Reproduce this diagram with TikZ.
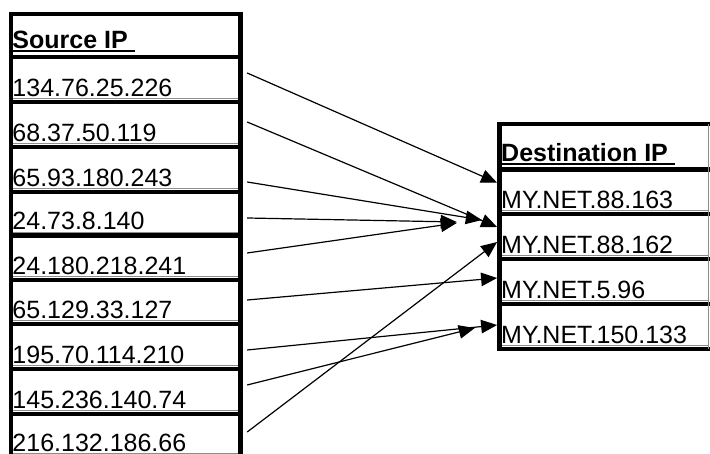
\documentclass[tikz,border=0pt]{standalone}
\usepackage{fontspec}
\setmainfont{Liberation Sans}
\usetikzlibrary{arrows.meta,calc}
\begin{document}
\begin{tikzpicture}[x=1pt,y=-1pt,
  gridline/.style={line width=4.4pt, line cap=rect},
  thinline/.style={line width=0.9pt, black!45},
  hdrline/.style={line width=2pt},
  lcell/.style={rectangle, inner sep=0pt, minimum width=229.7pt, minimum height=44.5pt},
  rcell/.style={rectangle, inner sep=0pt, minimum width=208.5pt, minimum height=45pt},
  txt/.style={anchor=base west, inner sep=0pt, font=\fontsize{25}{30}\selectfont},
  hdr/.style={anchor=base west, inner sep=0pt, font=\fontsize{25}{30}\selectfont\bfseries},
  arr/.style={-{Triangle[length=16pt,width=13.5pt]}, line width=1.2pt}]
\useasboundingbox (0,0) rectangle (710,454);
\fill[white] (0,0) rectangle (710,454);

% left table cells
\node[lcell] (sh) at (125.65,35.5) {};
\node[lcell] (s1) at (125.65,79.5) {};
\node[lcell] (s2) at (125.65,124.5) {};
\node[lcell] (s3) at (125.65,169.5) {};
\node[lcell] (s4) at (125.65,213.75) {};
\node[lcell] (s5) at (125.65,257.75) {};
\node[lcell] (s6) at (125.65,302) {};
\node[lcell] (s7) at (125.65,346.5) {};
\node[lcell] (s8) at (125.65,391.5) {};
\node[lcell] (s9) at (125.65,436.25) {};

% right table cells
\node[rcell] (dh) at (603.75,146.75) {};
\node[rcell] (d1) at (603.75,191.75) {};
\node[rcell] (d2) at (603.75,236.5) {};
\node[rcell] (d3) at (603.75,281.5) {};
\node[rcell] (d4) at (603.75,326.5) {};

% texts
\node[hdr] (th) at (12.3,48.5) {Source IP};
\node[txt] (t1) at (12.3,96.5) {134.76.25.226};
\node[txt] (t2) at (12.3,141.5) {68.37.50.119};
\node[txt] (t3) at (12.3,186.5) {65.93.180.243};
\node[txt] (t4) at (12.3,230) {24.73.8.140};
\node[txt] (t5) at (12.3,274.5) {24.180.218.241};
\node[txt] (t6) at (12.3,318.5) {65.129.33.127};
\node[txt] (t7) at (12.3,363.5) {195.70.114.210};
\node[txt] (t8) at (12.3,408.5) {145.236.140.74};
\node[txt] (t9) at (12.3,451.5) {216.132.186.66};

\node[hdr] (uh) at (501,161.5) {Destination IP};
\node[txt] (u1) at (501,208.5) {MY.NET.88.163};
\node[txt] (u2) at (501,253.5) {MY.NET.88.162};
\node[txt] (u3) at (501,298.5) {MY.NET.5.96};
\node[txt] (u4) at (501,343.5) {MY.NET.150.133};

% underlines
\foreach \i in {1,...,9}
  \draw[thinline] ($(t\i.base west)+(0,2)$) -- ($(t\i.base west -| s\i.east)+(0,2)$);
\foreach \i in {1,...,4}
  \draw[thinline] ($(u\i.base west)+(0,2)$) -- ($(u\i.base west -| d\i.east)+(0,2)$);
\draw[hdrline] ($(th.base west)+(0,2.7)$) -- ($(th.base east)+(7,2.7)$);
\draw[hdrline] ($(uh.base west)+(0,2.5)$) -- ($(uh.base east)+(7,2.5)$);

% left grid
\draw[gridline] (10.8,14) -- (10.8,470);
\draw[gridline] (240.5,14) -- (240.5,470);
\foreach \y in {14,57,102,147,192,235.5,280,324,369,414}
  \draw[gridline] (10.8,\y) -- (240.5,\y);
% right grid
\draw[gridline] (499.5,124) -- (499.5,349);
\foreach \y in {124,169.5,214,259,304,349}
  \draw[gridline] (499.5,\y) -- (712,\y);
\draw[thinline] (708,124) -- (708,349);

% arrows
\draw[arr] ($(s1.east)+(6.5,-6.5)$) -- ($(d1.west)+(-2.2,-9)$);
\draw[arr] ($(s2.east)+(6.5,-2.5)$) -- ($(d2.west)+(-2.2,-9.5)$);
\draw[arr] ($(s3.east)+(6.5,12.5)$) -- ($(d2.west)+(-17.5,-16.5)$);
\draw[arr] ($(s4.east)+(6.5,4.25)$) -- ($(d2.west)+(-42.5,-14.5)$);
\draw[arr] ($(s5.east)+(6.5,-4.75)$) -- ($(d2.west)+(-42.5,-13.5)$);
\draw[arr] ($(s6.east)+(6.5,-2)$) -- ($(d3.west)+(-2.2,-3.5)$);
\draw[arr] ($(s7.east)+(6.5,3.5)$) -- ($(d4.west)+(-2.2,-1.5)$);
\draw[arr] ($(s8.east)+(6.5,-6.5)$) -- ($(d4.west)+(-24.5,1.5)$);
\draw[arr] ($(s9.east)+(6.5,-4.25)$) -- ($(d2.west)+(-2.2,5.5)$);
\end{tikzpicture}
\end{document}
